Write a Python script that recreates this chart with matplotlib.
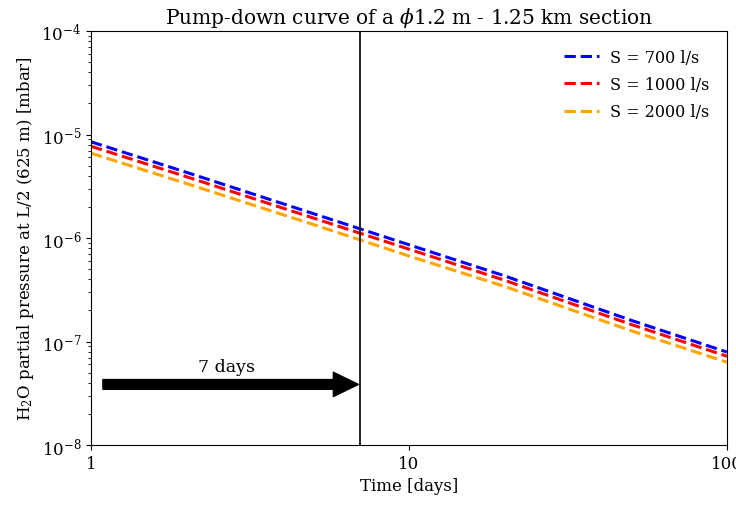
import matplotlib
matplotlib.use("Agg")
import matplotlib.pyplot as plt
from matplotlib.ticker import NullLocator, FuncFormatter

plt.rcParams['font.family'] = ['DejaVu Serif']
plt.rcParams['mathtext.fontset'] = 'dejavuserif'

# Data
time_days = [1, 2, 5, 10, 20, 50, 100]
p_700 = [8.5e-6, 4.3e-6, 1.72e-6, 8.6e-7, 4.3e-7, 1.6e-7, 7.9e-8]
p_1000 = [7.7e-6, 3.9e-6, 1.56e-6, 7.8e-7, 3.9e-7, 1.46e-7, 7.2e-8]
p_2000 = [6.6e-6, 3.35e-6, 1.35e-6, 6.7e-7, 3.4e-7, 1.27e-7, 6.3e-8]
labels = ["S = 700 l/s", "S = 1000 l/s", "S = 2000 l/s"]
colors = ["blue", "red", "orange"]
marker_day = 7

fig = plt.figure(figsize=(7.36, 5.06), dpi=100)
ax = fig.add_axes([91/736, 60/506, 636/736, 414/506])

for y, lab, c in zip([p_700, p_1000, p_2000], labels, colors):
    ax.plot(time_days, y, linestyle='--', color=c, lw=2.2, label=lab)

ax.axvline(marker_day, color='#222222', lw=1.4)
ax.annotate('', xy=(marker_day * 0.99, 3.85e-8), xytext=(1.09, 3.85e-8),
            arrowprops=dict(facecolor='black', edgecolor='black', width=7,
                            headwidth=17.5, headlength=18, shrink=0))
ax.text(2.66, 5.75e-8, '7 days', ha='center', va='center', fontsize=12.5)

ax.set_xscale('log')
ax.set_yscale('log')
ax.set_xlim(1, 100)
ax.set_ylim(1e-8, 1e-4)
ax.xaxis.set_minor_locator(NullLocator())
ax.xaxis.set_major_formatter(FuncFormatter(lambda v, p: f'{v:g}'))
ax.set_title(r'Pump-down curve of a $\phi$1.2 m - 1.25 km section', fontsize=14.5, pad=6)
ax.set_xlabel('Time [days]', fontsize=12)
ax.set_ylabel(r'H$_2$O partial pressure at L/2 (625 m) [mbar]', fontsize=12)
ax.tick_params(labelsize=12)
ax.legend(frameon=False, fontsize=11.5, loc='upper right', handlelength=2.2,
          handletextpad=0.7, labelspacing=0.65, borderaxespad=0.7)

fig.savefig('out.png', dpi=100)
